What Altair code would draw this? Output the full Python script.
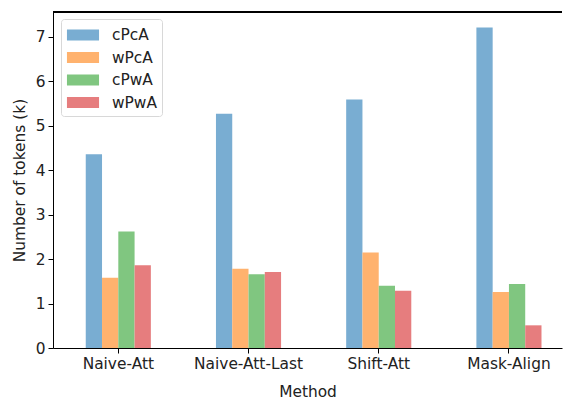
import altair as alt
import pandas as pd

methods = ["Naive-Att", "Naive-Att-Last", "Shift-Att", "Mask-Align"]
series = ["cPcA", "wPcA", "cPwA", "wPwA"]
cPcA = [4.36, 5.27, 5.59, 7.21]
wPcA = [1.58, 1.78, 2.15, 1.26]
cPwA = [2.62, 1.66, 1.40, 1.44]
wPwA = [1.86, 1.71, 1.29, 0.51]
colors = ["#79add2", "#ffb26e", "#80c680", "#e67d7e"]

rows = []
for s, vals in zip(series, [cPcA, wPcA, cPwA, wPwA]):
    for m, v in zip(methods, vals):
        rows.append({"Method": m, "Series": s, "Value": v})
df = pd.DataFrame(rows)

font = "DejaVu Sans"
fs = 15.4
bars = alt.Chart(df).mark_bar().encode(
    x=alt.X("Method:N", sort=methods,
            scale=alt.Scale(paddingInner=0.5, paddingOuter=0.2045, align=0.615),
            axis=alt.Axis(title="Method", labelAngle=0, labelFontSize=fs,
                          titleFontSize=fs, titleFontWeight="normal",
                          labelColor="#222", titleColor="#222",
                          domainColor="black", tickColor="black", tickSize=5,
                          labelPadding=3, titlePadding=13, grid=False)),
    xOffset=alt.XOffset("Series:N", sort=series),
    y=alt.Y("Value:Q", scale=alt.Scale(domain=[0, 7.557], nice=False),
            axis=alt.Axis(title="Number of tokens (k)", values=[0, 1, 2, 3, 4, 5, 6, 7],
                          labelFontSize=fs, titleFontSize=fs, titleFontWeight="normal",
                          labelColor="#222", titleColor="#222",
                          domainColor="black", tickColor="black", tickSize=5, grid=False,
                          labelPadding=3, titlePadding=8)),
    color=alt.Color("Series:N", sort=series,
                    scale=alt.Scale(domain=series, range=colors),
                    legend=alt.Legend(title=None, orient="none", legendX=8, legendY=7,
                                      labelFontSize=fs, labelFont=font,
                                      symbolType="M-1.48,-0.5H1.48V0.5H-1.48Z",
                                      symbolSize=470, symbolStrokeWidth=0,
                                      symbolOffset=6,
                                      rowPadding=2.5, labelOffset=18,
                                      padding=5, strokeColor="#d8d8d8",
                                      fillColor="white", cornerRadius=3,
                                      labelColor="#222")),
)

top_spine = alt.Chart(df).mark_rule(color="black", strokeWidth=1).encode(
    x=alt.value(0), x2=alt.value("width"), y=alt.value(0)
)

chart = alt.layer(bars, top_spine).properties(
    width=555, height=392,
    autosize=alt.AutoSizeParams(type="fit", contains="padding"),
    padding={"left": 4, "top": 3, "right": 0, "bottom": 0},
).configure(font=font).configure_view(stroke=None)

chart.save("out.html", embed_options={"renderer": "svg", "actions": False})
